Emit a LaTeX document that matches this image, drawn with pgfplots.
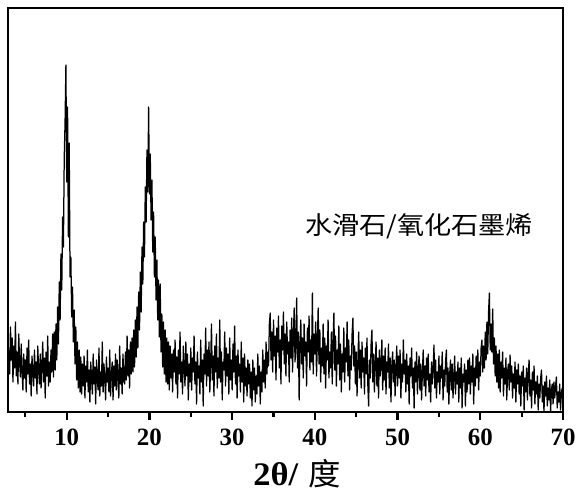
\documentclass[border=0pt]{standalone}
\usepackage{pgfplots}
\pgfplotsset{compat=1.18}
\usepackage{fontspec}
\setmainfont{Liberation Serif}
\newfontfamily\tickfam{Liberation Serif}
\newfontfamily\labfam{Liberation Serif}[FakeStretch=1.05]
\newfontfamily\cjk{Noto Sans CJK SC}[FakeStretch=1.09]
\newfontfamily\cjklab{Noto Sans CJK SC}[FakeStretch=1.05]
\begin{document}
\begin{tikzpicture}
\useasboundingbox (-8bp,-88bp) rectangle (579bp,412bp);
\begin{axis}[
  scale only axis, width=555bp, height=404bp,
  xmin=2.9, xmax=70, ymin=0, ymax=404,
  axis line style={line width=2.4bp},
  xtick={10,20,...,70}, minor xtick={5,15,...,65},
  xtick pos=bottom, ytick=\empty,
  tick align=outside,
  major tick length=8bp, minor tick length=5bp,
  every tick/.style={black, line width=2.2bp},
  xticklabel style={font=\tickfam\bfseries\fontsize{25}{25}\selectfont, inner sep=0pt},
  xticklabel shift=9bp,
  /pgf/number format/assume math mode=true,
  xlabel={{\labfam\bfseries\fontsize{33}{33}\selectfont 2θ/}\hspace{10bp}{\cjklab\fontsize{31}{31}\selectfont 度}},
  xlabel style={at={(axis description cs:0.4416,0)}, anchor=base west, yshift=-73bp, inner sep=0pt},
]
\addplot[black, line width=1.25bp, line join=round] table[row sep=\\] {
x y\\
3.0 62\\3.1 38\\3.2 85\\3.3 52\\3.4 74\\3.5 30\\3.6 66\\3.7 44\\3.8 90\\3.9 36\\
4.0 60\\4.1 28\\4.2 78\\4.3 50\\4.4 35\\4.5 68\\4.6 40\\4.7 22\\4.8 58\\4.9 34\\
5.0 52\\5.1 20\\5.2 64\\5.3 38\\5.4 72\\5.5 28\\5.6 48\\5.7 16\\5.8 56\\5.9 40\\
6.0 26\\6.1 62\\6.2 34\\6.3 50\\6.4 18\\6.5 66\\6.6 42\\6.7 28\\6.8 58\\6.9 24\\
7.0 46\\7.1 70\\7.2 30\\7.3 54\\7.4 14\\7.5 60\\7.6 36\\7.7 76\\7.8 26\\7.9 50\\
8.0 30\\8.1 62\\8.2 40\\8.3 78\\8.4 35\\8.5 80\\8.6 42\\8.7 88\\8.8 52\\8.9 105\\
9.0 68\\9.1 130\\9.2 92\\9.3 158\\9.4 122\\9.5 195\\9.6 165\\9.7 255\\9.8 290\\9.9 347\\
10.0 230\\10.1 305\\10.2 175\\10.3 269\\10.4 135\\10.5 155\\10.6 95\\10.7 125\\10.8 70\\10.9 102\\
11.0 48\\11.1 85\\11.2 32\\11.3 70\\11.4 24\\11.5 62\\11.6 20\\11.7 55\\11.8 18\\11.9 48\\
12.0 26\\12.1 56\\12.2 14\\12.3 46\\12.4 30\\12.5 62\\12.6 20\\12.7 42\\12.8 10\\12.9 50\\
13.0 34\\13.1 18\\13.2 58\\13.3 28\\13.4 45\\13.5 8\\13.6 52\\13.7 32\\13.8 22\\13.9 64\\
14.0 16\\14.1 40\\14.2 26\\14.3 70\\14.4 20\\14.5 48\\14.6 35\\14.7 12\\14.8 55\\14.9 30\\
15.0 44\\15.1 20\\15.2 62\\15.3 16\\15.4 38\\15.5 50\\15.6 12\\15.7 46\\15.8 26\\15.9 58\\
16.0 22\\16.1 52\\16.2 34\\16.3 14\\16.4 66\\16.5 28\\16.6 44\\16.7 18\\16.8 58\\16.9 32\\
17.0 28\\17.1 60\\17.2 32\\17.3 76\\17.4 36\\17.5 62\\17.6 24\\17.7 70\\17.8 38\\17.9 74\\
18.0 40\\18.1 82\\18.2 45\\18.3 92\\18.4 55\\18.5 105\\18.6 64\\18.7 120\\18.8 82\\18.9 140\\
19.0 100\\19.1 165\\19.2 128\\19.3 190\\19.4 155\\19.5 225\\19.6 190\\19.7 262\\19.8 220\\19.9 305\\
20.0 218\\20.1 258\\20.2 192\\20.3 232\\20.4 160\\20.5 200\\20.6 135\\20.7 175\\20.8 112\\20.9 152\\
21.0 92\\21.1 132\\21.2 75\\21.3 128\\21.4 60\\21.5 98\\21.6 45\\21.7 90\\21.8 38\\21.9 82\\
22.0 30\\22.1 74\\22.2 28\\22.3 70\\22.4 22\\22.5 66\\22.6 34\\22.7 58\\22.8 20\\22.9 62\\
23.0 40\\23.1 72\\23.2 28\\23.3 55\\23.4 14\\23.5 62\\23.6 38\\23.7 80\\23.8 30\\23.9 50\\
24.0 18\\24.1 66\\24.2 44\\24.3 26\\24.4 70\\24.5 36\\24.6 58\\24.7 12\\24.8 48\\24.9 30\\
25.0 64\\25.1 22\\25.2 54\\25.3 40\\25.4 76\\25.5 28\\25.6 50\\25.7 8\\25.8 60\\25.9 34\\
26.0 46\\26.1 18\\26.2 72\\26.3 30\\26.4 52\\26.5 6\\26.6 58\\26.7 38\\26.8 84\\26.9 26\\
27.0 62\\27.1 36\\27.2 70\\27.3 20\\27.4 48\\27.5 88\\27.6 32\\27.7 56\\27.8 16\\27.9 66\\
28.0 40\\28.1 78\\28.2 24\\28.3 54\\28.4 34\\28.5 92\\28.6 30\\28.7 60\\28.8 12\\28.9 50\\
29.0 42\\29.1 80\\29.2 26\\29.3 64\\29.4 36\\29.5 58\\29.6 18\\29.7 74\\29.8 32\\29.9 52\\
30.0 22\\30.1 68\\30.2 40\\30.3 86\\30.4 28\\30.5 56\\30.6 14\\30.7 62\\30.8 36\\30.9 48\\
31.0 20\\31.1 70\\31.2 30\\31.3 54\\31.4 10\\31.5 58\\31.6 26\\31.7 44\\31.8 16\\31.9 52\\
32.0 28\\32.1 48\\32.2 14\\32.3 40\\32.4 6\\32.5 52\\32.6 22\\32.7 44\\32.8 10\\32.9 36\\
33.0 18\\33.1 58\\33.2 26\\33.3 46\\33.4 8\\33.5 40\\33.6 20\\33.7 62\\33.8 30\\33.9 52\\
34.0 24\\34.1 70\\34.2 38\\34.3 60\\34.4 46\\34.5 88\\34.6 99\\34.7 52\\34.8 80\\34.9 40\\
35.0 92\\35.1 56\\35.2 76\\35.3 32\\35.4 84\\35.5 60\\35.6 96\\35.7 44\\35.8 72\\35.9 28\\
36.0 86\\36.1 62\\36.2 100\\36.3 48\\36.4 78\\36.5 36\\36.6 90\\36.7 58\\36.8 70\\36.9 30\\
37.0 82\\37.1 54\\37.2 94\\37.3 40\\37.4 76\\37.5 104\\37.6 50\\37.7 68\\37.8 114\\37.9 44\\
38.0 80\\38.1 12\\38.2 66\\38.3 92\\38.4 48\\38.5 74\\38.6 34\\38.7 88\\38.8 56\\38.9 70\\
39.0 26\\39.1 84\\39.2 60\\39.3 96\\39.4 42\\39.5 72\\39.6 50\\39.7 119\\39.8 38\\39.9 78\\
40.0 58\\40.1 90\\40.2 36\\40.3 70\\40.4 104\\40.5 48\\40.6 82\\40.7 30\\40.8 64\\40.9 46\\
41.0 88\\41.1 38\\41.2 74\\41.3 24\\41.4 66\\41.5 52\\41.6 92\\41.7 34\\41.8 60\\41.9 44\\
42.0 80\\42.1 28\\42.2 70\\42.3 99\\42.4 42\\42.5 76\\42.6 26\\42.7 62\\42.8 48\\42.9 86\\
43.0 32\\43.1 68\\43.2 20\\43.3 58\\43.4 40\\43.5 84\\43.6 30\\43.7 64\\43.8 50\\43.9 90\\
44.0 36\\44.1 72\\44.2 22\\44.3 56\\44.4 42\\44.5 78\\44.6 94\\44.7 46\\44.8 66\\44.9 28\\
45.0 60\\45.1 16\\45.2 52\\45.3 80\\45.4 34\\45.5 62\\45.6 24\\45.7 70\\45.8 40\\45.9 54\\
46.0 18\\46.1 64\\46.2 38\\46.3 74\\46.4 28\\46.5 6\\46.6 52\\46.7 34\\46.8 68\\46.9 82\\
47.0 30\\47.1 58\\47.2 20\\47.3 48\\47.4 70\\47.5 26\\47.6 54\\47.7 14\\47.8 62\\47.9 36\\
48.0 46\\48.1 72\\48.2 22\\48.3 56\\48.4 32\\48.5 64\\48.6 18\\48.7 50\\48.8 40\\48.9 68\\
49.0 24\\49.1 54\\49.2 10\\49.3 46\\49.4 60\\49.5 30\\49.6 52\\49.7 16\\49.8 44\\49.9 66\\
50.0 26\\50.1 56\\50.2 34\\50.3 62\\50.4 14\\50.5 48\\50.6 30\\50.7 72\\50.8 38\\50.9 52\\
51.0 20\\51.1 58\\51.2 28\\51.3 46\\51.4 8\\51.5 54\\51.6 36\\51.7 64\\51.8 24\\51.9 44\\
52.0 4\\52.1 50\\52.2 30\\52.3 60\\52.4 18\\52.5 42\\52.6 56\\52.7 22\\52.8 48\\52.9 12\\
53.0 40\\53.1 62\\53.2 26\\53.3 46\\53.4 16\\53.5 54\\53.6 32\\53.7 58\\53.8 20\\53.9 38\\
54.0 10\\54.1 50\\54.2 28\\54.3 44\\54.4 67\\54.5 24\\54.6 52\\54.7 14\\54.8 40\\54.9 30\\
55.0 56\\55.1 18\\55.2 46\\55.3 34\\55.4 60\\55.5 12\\55.6 42\\55.7 26\\55.8 50\\55.9 62\\
56.0 20\\56.1 44\\56.2 8\\56.3 38\\56.4 52\\56.5 22\\56.6 48\\56.7 14\\56.8 36\\56.9 56\\
57.0 18\\57.1 40\\57.2 28\\57.3 50\\57.4 10\\57.5 44\\57.6 24\\57.7 54\\57.8 4\\57.9 38\\
58.0 30\\58.1 48\\58.2 6\\58.3 42\\58.4 20\\58.5 52\\58.6 28\\58.7 54\\58.8 18\\58.9 46\\
59.0 30\\59.1 58\\59.2 8\\59.3 44\\59.4 26\\59.5 56\\59.6 34\\59.7 62\\59.8 22\\59.9 50\\
60.0 36\\60.1 64\\60.2 72\\60.3 40\\60.4 66\\60.5 44\\60.6 80\\60.7 52\\60.8 90\\60.9 58\\
61.0 100\\61.1 119\\61.2 62\\61.3 88\\61.4 60\\61.5 103\\61.6 48\\61.7 74\\61.8 36\\61.9 66\\
62.0 30\\62.1 58\\62.2 24\\62.3 62\\62.4 20\\62.5 50\\62.6 34\\62.7 60\\62.8 16\\62.9 44\\
63.0 28\\63.1 54\\63.2 12\\63.3 40\\63.4 48\\63.5 22\\63.6 57\\63.7 30\\63.8 46\\63.9 14\\
64.0 38\\64.1 24\\64.2 50\\64.3 10\\64.4 42\\64.5 28\\64.6 48\\64.7 18\\64.8 36\\64.9 6\\
65.0 40\\65.1 26\\65.2 46\\65.3 2\\65.4 34\\65.5 20\\65.6 44\\65.7 12\\65.8 38\\65.9 52\\
66.0 16\\66.1 32\\66.2 4\\66.3 40\\66.4 22\\66.5 46\\66.6 8\\66.7 30\\66.8 18\\66.9 36\\
67.0 2\\67.1 28\\67.2 14\\67.3 34\\67.4 42\\67.5 10\\67.6 26\\67.7 0\\67.8 30\\67.9 16\\
68.0 36\\68.1 6\\68.2 24\\68.3 12\\68.4 32\\68.5 0\\68.6 22\\68.7 28\\68.8 8\\68.9 30\\
69.0 14\\69.1 26\\69.2 35\\69.3 4\\69.4 20\\69.5 10\\69.6 28\\69.7 2\\69.8 18\\69.9 24\\
70.0 6\\
};
\node[anchor=west, inner sep=0pt, font=\cjk\fontsize{25}{25}\selectfont] at (axis cs:38.8,186) {水滑石/氧化石墨烯};
\end{axis}
\end{tikzpicture}
\end{document}
